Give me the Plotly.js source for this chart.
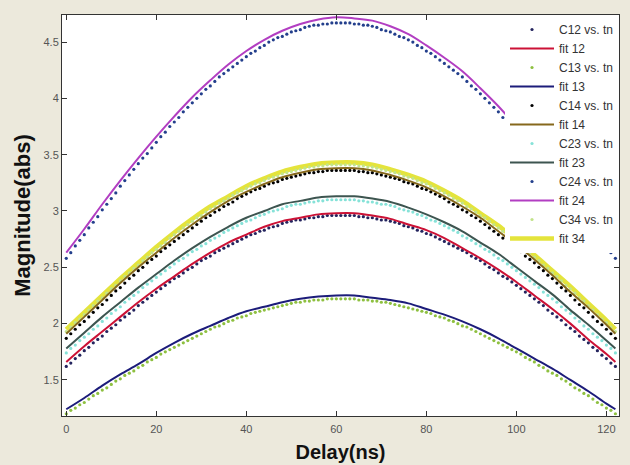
<!DOCTYPE html>
<html>
<head>
<meta charset="utf-8">
<script src="https://cdn.plot.ly/plotly-3.0.1.min.js"></script>
<style>html,body{margin:0;padding:0;background:#ece9dc;}#chart{width:630px;height:465px;}</style>
</head>
<body>
<div id="chart"></div>
<script>
// Delay (ns) sample positions
const xDots = [0,1,2,3,4,5,6,7,8,9,10,11,12,13,14,15,16,17,18,19,20,21,22,23,24,25,26,27,28,29,30,31,32,33,34,35,36,37,38,39,40,41,42,43,44,45,46,47,48,49,50,51,52,53,54,55,56,57,58,59,60,61,62,63,64,65,66,67,68,69,70,71,72,73,74,75,76,77,78,79,80,81,82,83,84,85,86,87,88,89,90,91,92,93,94,95,96,97,98,99,100,101,102,103,104,105,106,107,108,109,110,111,112,113,114,115,116,117,118,119,120,121,122];
const xFit = [0,4,8,12,16,20,24,28,32,36,40,44,48,52,56,60,64,68,72,76,80,84,88,92,96,100,104,108,112,116,120,122];

// measured magnitudes (dots)
const c12 = [1.62,1.65,1.69,1.72,1.76,1.79,1.83,1.86,1.89,1.93,1.96,1.99,2.03,2.06,2.09,2.12,2.16,2.19,2.22,2.25,2.28,2.31,2.34,2.37,2.40,2.42,2.45,2.48,2.50,2.53,2.56,2.58,2.60,2.63,2.65,2.67,2.69,2.71,2.73,2.75,2.77,2.79,2.80,2.82,2.83,2.85,2.86,2.87,2.89,2.90,2.91,2.92,2.92,2.93,2.94,2.94,2.95,2.95,2.96,2.96,2.96,2.96,
  2.96,2.96,2.96,2.95,2.95,2.94,2.94,2.93,2.92,2.92,2.91,2.90,2.89,2.87,2.86,2.85,2.83,2.82,2.80,2.79,2.77,2.75,2.73,2.71,2.69,2.67,2.65,2.63,2.60,2.58,2.56,2.53,2.50,2.48,2.45,2.42,2.40,2.37,2.34,2.31,2.28,2.25,2.22,2.19,2.16,2.12,2.09,2.06,2.03,1.99,1.96,1.93,1.89,1.86,1.83,1.79,1.76,1.72,1.69,1.65,1.62];
const c13 = [1.20,1.23,1.25,1.28,1.30,1.33,1.36,1.38,1.41,1.43,1.46,1.49,1.51,1.54,1.56,1.58,1.61,1.63,1.66,1.68,1.70,1.73,1.75,1.77,1.79,1.81,1.83,1.85,1.87,1.89,1.91,1.93,1.95,1.97,1.98,2.00,2.02,2.03,2.05,2.06,2.07,2.09,2.10,2.11,2.12,2.13,2.14,2.15,2.16,2.17,2.18,2.19,2.19,2.20,2.20,2.21,2.21,2.21,2.22,2.22,2.22,2.22,
  2.22,2.22,2.22,2.21,2.21,2.21,2.20,2.20,2.19,2.19,2.18,2.17,2.16,2.15,2.14,2.13,2.12,2.11,2.10,2.09,2.07,2.06,2.05,2.03,2.02,2.00,1.98,1.97,1.95,1.93,1.91,1.89,1.87,1.85,1.83,1.81,1.79,1.77,1.75,1.73,1.70,1.68,1.66,1.63,1.61,1.58,1.56,1.54,1.51,1.49,1.46,1.43,1.41,1.38,1.36,1.33,1.30,1.28,1.25,1.23,1.20];
const c14 = [1.87,1.91,1.95,1.99,2.02,2.06,2.10,2.14,2.17,2.21,2.25,2.29,2.32,2.36,2.40,2.43,2.47,2.50,2.54,2.57,2.60,2.64,2.67,2.70,2.73,2.76,2.79,2.82,2.85,2.88,2.91,2.94,2.96,2.99,3.01,3.04,3.06,3.08,3.11,3.13,3.15,3.17,3.19,3.20,3.22,3.24,3.25,3.26,3.28,3.29,3.30,3.31,3.32,3.33,3.34,3.34,3.35,3.35,3.36,3.36,3.36,3.36,
  3.36,3.36,3.36,3.35,3.35,3.34,3.34,3.33,3.32,3.31,3.30,3.29,3.28,3.26,3.25,3.24,3.22,3.20,3.19,3.17,3.15,3.13,3.11,3.08,3.06,3.04,3.01,2.99,2.96,2.94,2.91,2.88,2.85,2.82,2.79,2.76,2.73,2.70,2.67,2.64,2.60,2.57,2.54,2.50,2.47,2.43,2.40,2.36,2.32,2.29,2.25,2.21,2.17,2.14,2.10,2.06,2.02,1.99,1.95,1.91,1.87];
const c23 = [1.74,1.78,1.81,1.85,1.88,1.91,1.95,1.98,2.02,2.05,2.09,2.12,2.15,2.19,2.22,2.25,2.28,2.32,2.35,2.38,2.41,2.44,2.47,2.50,2.53,2.56,2.58,2.61,2.64,2.66,2.69,2.71,2.74,2.76,2.78,2.81,2.83,2.85,2.87,2.89,2.91,2.92,2.94,2.96,2.97,2.99,3.00,3.01,3.02,3.04,3.05,3.06,3.06,3.07,3.08,3.08,3.09,3.09,3.10,3.10,3.10,3.10,
  3.10,3.10,3.10,3.09,3.09,3.08,3.08,3.07,3.06,3.06,3.05,3.04,3.02,3.01,3.00,2.99,2.97,2.96,2.94,2.92,2.91,2.89,2.87,2.85,2.83,2.81,2.78,2.76,2.74,2.71,2.69,2.66,2.64,2.61,2.58,2.56,2.53,2.50,2.47,2.44,2.41,2.38,2.35,2.32,2.28,2.25,2.22,2.19,2.15,2.12,2.09,2.05,2.02,1.98,1.95,1.91,1.88,1.85,1.81,1.78,1.74];
const c24 = [2.58,2.63,2.69,2.74,2.79,2.85,2.90,2.95,3.01,3.06,3.11,3.16,3.22,3.27,3.32,3.37,3.42,3.47,3.51,3.56,3.61,3.66,3.70,3.75,3.79,3.83,3.88,3.92,3.96,4.00,4.04,4.08,4.11,4.15,4.19,4.22,4.25,4.28,4.31,4.34,4.37,4.40,4.42,4.45,4.47,4.50,4.52,4.54,4.55,4.57,4.59,4.60,4.61,4.63,4.64,4.65,4.65,4.66,4.66,4.67,4.67,4.67,
  4.67,4.67,4.66,4.66,4.65,4.65,4.64,4.63,4.61,4.60,4.59,4.57,4.55,4.54,4.52,4.50,4.47,4.45,4.42,4.40,4.37,4.34,4.31,4.28,4.25,4.22,4.19,4.15,4.11,4.08,4.04,4.00,3.96,3.92,3.88,3.83,3.79,3.75,3.70,3.66,3.61,3.56,3.51,3.47,3.42,3.37,3.32,3.27,3.22,3.16,3.11,3.06,3.01,2.95,2.90,2.85,2.79,2.74,2.69,2.63,2.58];
const c34 = [1.93,1.97,2.01,2.04,2.08,2.12,2.16,2.20,2.23,2.27,2.31,2.34,2.38,2.42,2.45,2.49,2.52,2.56,2.59,2.63,2.66,2.69,2.72,2.76,2.79,2.82,2.85,2.88,2.91,2.94,2.96,2.99,3.02,3.04,3.07,3.09,3.11,3.14,3.16,3.18,3.20,3.22,3.24,3.25,3.27,3.29,3.30,3.31,3.33,3.34,3.35,3.36,3.37,3.38,3.39,3.39,3.40,3.40,3.41,3.41,3.41,3.41,
  3.41,3.41,3.41,3.40,3.40,3.39,3.39,3.38,3.37,3.36,3.35,3.34,3.33,3.31,3.30,3.29,3.27,3.25,3.24,3.22,3.20,3.18,3.16,3.14,3.11,3.09,3.07,3.04,3.02,2.99,2.96,2.94,2.91,2.88,2.85,2.82,2.79,2.76,2.72,2.69,2.66,2.63,2.59,2.56,2.52,2.49,2.45,2.42,2.38,2.34,2.31,2.27,2.23,2.20,2.16,2.12,2.08,2.04,2.01,1.97,1.93];

// fitted curves
const f12 = [1.66,1.80,1.93,2.06,2.19,2.31,2.42,2.53,2.63,2.72,2.79,2.86,2.91,2.94,2.97,2.98,2.98,2.96,2.93,2.88,2.83,2.76,2.67,2.58,2.48,2.37,2.25,2.13,2.00,1.86,1.73,1.66];
const f13 = [1.24,1.34,1.45,1.55,1.64,1.74,1.83,1.91,1.98,2.05,2.11,2.15,2.19,2.22,2.24,2.25,2.25,2.23,2.21,2.18,2.13,2.08,2.02,1.95,1.87,1.78,1.69,1.60,1.50,1.40,1.29,1.24];
const f14 = [1.91,2.06,2.21,2.36,2.50,2.63,2.76,2.88,2.99,3.09,3.17,3.24,3.30,3.34,3.37,3.38,3.38,3.36,3.32,3.27,3.21,3.13,3.04,2.94,2.82,2.70,2.57,2.43,2.28,2.14,1.99,1.91];
const f23 = [1.78,1.92,2.06,2.19,2.32,2.44,2.56,2.67,2.77,2.86,2.94,3.00,3.06,3.09,3.12,3.13,3.13,3.11,3.08,3.03,2.97,2.90,2.82,2.72,2.62,2.50,2.38,2.26,2.12,1.99,1.85,1.78];
const f24 = [2.63,2.84,3.06,3.27,3.47,3.66,3.84,4.01,4.16,4.30,4.42,4.52,4.60,4.66,4.70,4.72,4.71,4.69,4.64,4.57,4.47,4.36,4.24,4.09,3.93,3.75,3.56,3.37,3.16,2.95,2.74,2.63];
const f34 = [1.95,2.10,2.25,2.40,2.54,2.68,2.81,2.93,3.04,3.13,3.22,3.29,3.35,3.39,3.42,3.43,3.43,3.41,3.37,3.32,3.26,3.18,3.09,2.98,2.87,2.74,2.61,2.47,2.33,2.18,2.03,1.95];

const xTicks = [0,20,40,60,80,100,120];
const yTicks = [1.5,2,2.5,3,3.5,4,4.5];

function dots(name, y, color, rank) {
  return {x: xDots, y: y, name: name, type: 'scatter', mode: 'markers',
    marker: {color: color, size: 3.2, symbol: 'circle'}, legendrank: rank};
}
function fit(name, y, color, width, rank) {
  return {x: xFit, y: y, name: name, type: 'scatter', mode: 'lines',
    line: {color: color, width: width, shape: 'spline', smoothing: 1}, legendrank: rank};
}

const traces = [
  fit('fit 34', f34, '#e4e43c', 4.5, 12),
  dots('C34 vs. tn', c34, '#c2e38a', 11),
  dots('C12 vs. tn', c12, '#24245e', 1),
  fit('fit 12', f12, '#cc1236', 2, 2),
  dots('C13 vs. tn', c13, '#8ec040', 3),
  fit('fit 13', f13, '#1c1c7a', 2, 4),
  dots('C14 vs. tn', c14, '#000000', 5),
  fit('fit 14', f14, '#86681c', 2, 6),
  dots('C23 vs. tn', c23, '#86e2d8', 7),
  fit('fit 23', f23, '#3d5550', 2, 8),
  dots('C24 vs. tn', c24, '#233f8c', 9),
  fit('fit 24', f24, '#b23ec2', 2, 10)
];

const layout = {
  width: 630, height: 465,
  paper_bgcolor: '#ece9dc', plot_bgcolor: '#ffffff',
  margin: {l: 62, r: 11, t: 15, b: 49},
  font: {family: 'Arial, "Liberation Sans", sans-serif', color: '#444'},
  showlegend: true,
  legend: {x: 1, xanchor: 'right', y: 1, yanchor: 'top', bgcolor: '#ffffff',
    borderwidth: 0, font: {size: 12, color: '#333'}, itemwidth: 44, traceorder: 'normal'},
  xaxis: {range: [-0.95, 122.8], tickvals: xTicks, ticks: 'inside', ticklen: 5, tickcolor: '#333',
    showline: true, linecolor: '#333', linewidth: 1, mirror: 'ticks', showgrid: false, zeroline: false,
    tickfont: {size: 11, color: '#555'}, ticklabelstandoff: 3,
    title: {text: '<b>Delay(ns)</b>', font: {size: 20, color: '#111'}, standoff: 10}},
  yaxis: {range: [1.18, 4.74], tickvals: yTicks, ticks: 'inside', ticklen: 5, tickcolor: '#333',
    showline: true, linecolor: '#333', linewidth: 1, mirror: 'ticks', showgrid: false, zeroline: false,
    tickfont: {size: 11, color: '#555'},
    title: {text: '<b>Magnitude(abs)</b>', font: {size: 22, color: '#111'}, standoff: 6}}
};

Plotly.newPlot('chart', traces, layout, {displayModeBar: false, staticPlot: true});
</script>
</body>
</html>
